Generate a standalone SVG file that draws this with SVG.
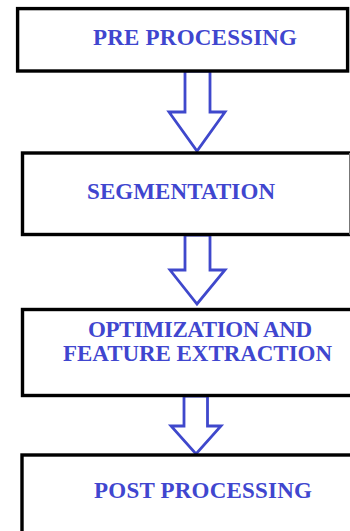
<svg xmlns="http://www.w3.org/2000/svg" width="350" height="531" viewBox="0 0 350 531">
  <style>
    .box { fill: #ffffff; stroke: #000000; stroke-width: 3.4; }
    .label { font-family: "Liberation Serif", "Times New Roman", serif; font-weight: bold; font-size: 23px; fill: #4046cf; text-anchor: middle; }
    .flow { fill: #ffffff; stroke: #3f48cc; stroke-width: 2.8; stroke-linejoin: miter; }
  </style>
  <rect width="350" height="531" fill="#ffffff"/>

  <g id="connectors">
    <path class="flow" d="M185,71 L210,71 L210,112 L225,112 L197,151 L169,112 L185,112 Z"/>
    <path class="flow" d="M185,235 L210,235 L210,270 L225,270 L197,304 L170,270 L185,270 Z"/>
    <path class="flow" d="M184,396 L207.5,396 L207.5,426 L221,426 L196,454 L171,426 L184,426 Z"/>
  </g>

  <g id="pre-processing">
    <rect class="box" x="17.6" y="8.6" width="330" height="62.4"/>
    <text class="label" x="195" y="45" textLength="204" lengthAdjust="spacing">PRE PROCESSING</text>
  </g>

  <g id="segmentation">
    <rect class="box" x="22.5" y="153" width="332" height="81.5"/>
    <line x1="349.5" y1="153" x2="349.5" y2="234.5" stroke="#777777" stroke-width="1"/>
    <text class="label" x="181" y="199" textLength="188" lengthAdjust="spacing">SEGMENTATION</text>
  </g>

  <g id="optimization">
    <rect class="box" x="22.5" y="309.5" width="332" height="86"/>
    <text class="label" x="200" y="337" textLength="224" lengthAdjust="spacing">OPTIMIZATION AND</text>
    <text class="label" x="197.5" y="361" textLength="269" lengthAdjust="spacing">FEATURE EXTRACTION</text>
  </g>

  <g id="post-processing">
    <rect class="box" x="22" y="455" width="332" height="90"/>
    <text class="label" x="203" y="498" textLength="218" lengthAdjust="spacing">POST PROCESSING</text>
  </g>
</svg>
